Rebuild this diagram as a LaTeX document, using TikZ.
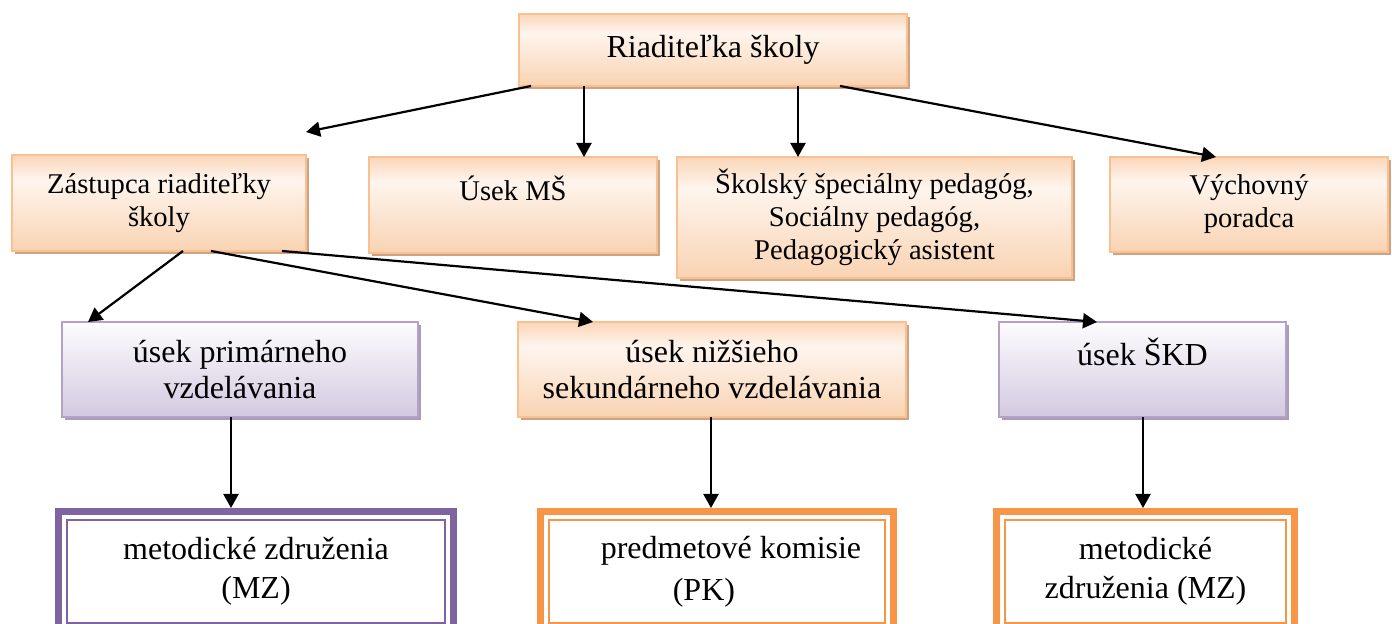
\documentclass[tikz,border=0pt]{standalone}
\usepackage{fontspec}
\setmainfont{Liberation Serif}
\usetikzlibrary{arrows.meta,shadows,calc}
\definecolor{peachT}{HTML}{FAD6B8}
\definecolor{peachM}{HTML}{FEF5EE}
\definecolor{peachB}{HTML}{F9D3B2}
\definecolor{peachD}{HTML}{FAC08F}
\definecolor{peachS}{HTML}{CCA384}
\definecolor{lavT}{HTML}{FDFCFE}
\definecolor{lavB}{HTML}{D3C9E0}
\definecolor{lavD}{HTML}{B3A2C7}
\definecolor{lavS}{HTML}{A99BBA}
\definecolor{orng}{HTML}{F79646}
\definecolor{purp}{HTML}{8064A2}
\pgfdeclareverticalshading{peachgrad}{100bp}{color(0bp)=(peachB); color(25bp)=(peachB); color(62bp)=(peachM); color(75bp)=(peachT); color(100bp)=(peachT)}
\pgfdeclareverticalshading{lavgrad}{100bp}{color(0bp)=(lavB); color(25bp)=(lavB); color(75bp)=(lavT); color(100bp)=(lavT)}
\tikzset{
  obox/.style={rectangle, inner sep=0pt, outer sep=0pt, draw=peachD, line width=1pt, shade, shading=peachgrad,
    drop shadow={shadow xshift=1.5pt, shadow yshift=-1.5pt, opacity=1, fill=peachS},
    align=center, font=\fontsize{14.3pt}{16.5pt}\selectfont},
  pbox/.style={rectangle, inner sep=0pt, outer sep=0pt, draw=lavD, line width=1pt, shade, shading=lavgrad,
    drop shadow={shadow xshift=1.5pt, shadow yshift=-1.5pt, opacity=1, fill=lavS},
    align=center, font=\fontsize{16pt}{18pt}\selectfont},
  dbox/.style={rectangle, inner sep=0pt, outer sep=0pt, line width=3.5pt, fill=white, align=center,
    font=\fontsize{16pt}{19.5pt}\selectfont},
  inline/.style={line width=1pt},
  arr/.style={line width=1.1pt, -{Triangle[length=7pt,width=7.5pt]}}
}
\begin{document}
\begin{tikzpicture}[x=0.5pt,y=-0.5pt]
\useasboundingbox (0,0) rectangle (1392,624);
\clip (0,0) rectangle (1392,624);
% top level
\node[obox, font=\fontsize{16pt}{19pt}\selectfont, minimum width=194pt, minimum height=36pt] (top) at (713,50) {Riaditeľka školy};
% second row
\node[obox, minimum width=147pt, minimum height=48pt] (zast) at (159,203) {Zástupca riaditeľky\\školy};
\node[obox, minimum width=144pt, minimum height=48pt] (ms) at (513,205) {Úsek MŠ\\\mbox{}};
\node[obox, minimum width=197.5pt, minimum height=60.5pt] (skol) at (874.5,217.5) {Školský špeciálny pedagóg,\\Sociálny pedagóg,\\Pedagogický asistent};
\node[obox, minimum width=139pt, minimum height=47.5pt] (vych) at (1249,204.5) {Výchovný\\poradca};
% third row
\node[pbox, minimum width=178pt, minimum height=47.5pt] (prim) at (240,369.5) {úsek primárneho\\vzdelávania};
\node[obox, font=\fontsize{16pt}{18pt}\selectfont, minimum width=194pt, minimum height=47.5pt] (niz) at (712,369.5) {úsek nižšieho\\sekundárneho vzdelávania};
\node[pbox, minimum width=143.5pt, minimum height=47.5pt] (skd) at (1142.5,369.5) {úsek ŠKD\\\mbox{}};
% bottom row
\node[dbox, draw=purp, minimum width=197.5pt, minimum height=60.25pt] (b1) at (256,571.75) {metodické združenia\\(MZ)};
\node[dbox, draw=orng, minimum width=176.5pt, minimum height=60.25pt] (b2) at (717,571.75) {\begin{tabular}{@{}l@{}}\hspace*{14pt}predmetové komisie\\[1.4pt]\hspace*{50pt}(PK)\end{tabular}};
\node[dbox, draw=orng, minimum width=149pt, minimum height=60.25pt] (b3) at (1145.5,571.75) {metodické\\združenia (MZ)};
\draw[inline, purp] ($(b1.north west)+(8.5,8.5)$) rectangle ($(b1.south east)+(-8.5,-8.5)$);
\draw[inline, orng] ($(b2.north west)+(8.5,8.5)$) rectangle ($(b2.south east)+(-8.5,-8.5)$);
\draw[inline, orng] ($(b3.north west)+(8.5,8.5)$) rectangle ($(b3.south east)+(-8.5,-8.5)$);
% connectors
\draw[arr] ($(top.south west)+(12,0)$) -- ($(zast.north east)+(0,-23)$);
\draw[arr] ($(top.south west)+(65,0)$) -- ($(ms.north west)+(215,0)$);
\draw[arr] ($(top.south west)+(279,0)$) -- ($(skol.north west)+(121,0)$);
\draw[arr] ($(top.south west)+(321,0)$) -- ($(vych.north west)+(106,0)$);
\draw[arr] ($(zast.south west)+(171,0)$) -- ($(prim.north west)+(26,0)$);
\draw[arr] ($(zast.south west)+(199,0)$) -- ($(niz.north west)+(75,0)$);
\draw[arr] ($(zast.south west)+(270,0)$) -- ($(skd.north west)+(98,0)$);
\draw[arr] ($(prim.south west)+(169,0)$) -- ($(b1.north west)+(172.5,-3.5)$);
\draw[arr] ($(niz.south west)+(193,0)$) -- ($(b2.north west)+(170.5,-3.5)$);
\draw[arr] ($(skd.south west)+(144,0)$) -- ($(b3.north west)+(146.5,-3.5)$);
\end{tikzpicture}
\end{document}
